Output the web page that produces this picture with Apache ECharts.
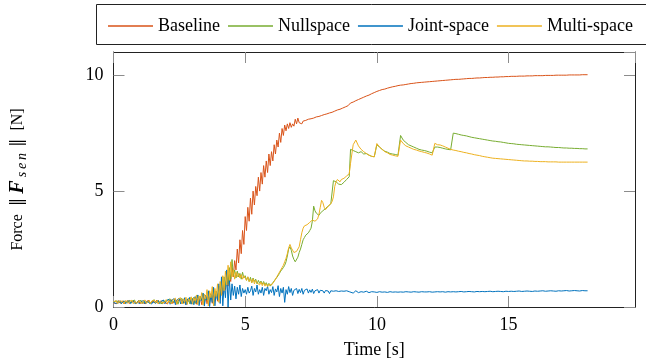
<!DOCTYPE html>
<html>
<head>
<meta charset="utf-8">
<script src="https://cdn.jsdelivr.net/npm/echarts@6/dist/echarts.min.js"></script>
<style>
  html, body { margin: 0; padding: 0; background: #fff; }
  #chart { width: 646px; height: 364px; }
</style>
</head>
<body>
<div id="chart"></div>
<script>
// samples: every 0.05 s from 0 to 8.95 s (one row per second), then every 0.1 s from 9 to 18 s
const fineStep = 0.05;
const fineCount = 180;
const coarseStart = 9;
const coarseStep = 0.1;

const baseline = [
  0.18,0.25,0.14,0.22,0.28,0.16,0.2,0.26,0.13,0.23,0.19,0.27,0.15,0.21,0.25,0.17,0.24,0.14,0.22,0.28,
  0.16,0.23,0.19,0.27,0.14,0.24,0.2,0.29,0.15,0.22,0.26,0.17,0.23,0.3,0.14,0.21,0.27,0.16,0.24,0.2,
  0.28,0.13,0.25,0.19,0.31,0.15,0.24,0.33,0.12,0.27,0.2,0.34,0.14,0.26,0.32,0.11,0.29,0.22,0.36,0.15,
  0.3,0.18,0.4,0.12,0.35,0.22,0.45,0.1,0.38,0.26,0.5,0.14,0.42,0.3,0.58,0.16,0.5,0.35,0.68,0.25,
  0.6,0.4,0.85,0.55,1.0,0.75,1.25,0.9,1.4,1.1,1.7,1.3,2.0,1.6,2.5,1.9,2.9,2.3,3.3,2.7,
  3.9,3.3,4.3,3.7,4.7,4.0,5.0,4.4,5.2,4.8,5.6,5.0,5.8,5.3,6.1,5.6,6.3,5.8,6.6,6.1,
  6.7,6.3,7.0,6.6,7.2,6.9,7.5,7.1,7.7,7.4,7.85,7.6,7.9,7.7,7.95,7.75,7.9,7.8,8.1,7.9,
  8.15,7.95,7.98,7.9,8.02,7.95,8.05,8.0,8.1,8.03,8.12,8.08,8.15,8.1,8.2,8.16,8.22,8.18,8.26,8.22,
  8.3,8.27,8.33,8.3,8.37,8.34,8.4,8.38,8.45,8.42,8.5,8.47,8.53,8.5,8.58,8.56,8.63,8.6,8.68,8.66,
  8.8,8.84,8.9,8.95,9.0,9.05,9.1,9.14,9.2,9.25,
  9.3,9.34,9.38,9.4,9.44,9.47,9.5,9.52,9.55,9.57,
  9.58,9.6,9.62,9.64,9.65,9.67,9.68,9.69,9.7,9.71,
  9.72,9.73,9.74,9.75,9.76,9.77,9.78,9.79,9.8,9.81,
  9.82,9.82,9.83,9.84,9.85,9.86,9.86,9.87,9.88,9.88,
  9.89,9.9,9.9,9.91,9.91,9.92,9.92,9.93,9.93,9.94,
  9.94,9.95,9.95,9.95,9.96,9.96,9.96,9.97,9.97,9.97,
  9.98,9.98,9.98,9.98,9.99,9.99,9.99,9.99,10.0,10.0,
  10.0,10.0,10.0,10.01,10.01,10.01,10.01,10.01,10.02,10.02,
  10.02
];

const nullspace = [
  0.21,0.15,0.26,0.18,0.24,0.29,0.16,0.22,0.27,0.14,0.23,0.19,0.28,0.16,0.25,0.2,0.3,0.15,0.22,0.26,
  0.19,0.28,0.15,0.24,0.3,0.17,0.22,0.27,0.13,0.25,0.2,0.31,0.16,0.24,0.29,0.18,0.26,0.14,0.3,0.21,
  0.16,0.3,0.22,0.35,0.14,0.27,0.33,0.18,0.29,0.12,0.31,0.24,0.37,0.15,0.28,0.34,0.19,0.39,0.13,0.3,
  0.22,0.42,0.15,0.36,0.5,0.2,0.45,0.28,0.58,0.14,0.48,0.3,0.65,0.2,0.55,0.35,0.75,0.25,0.68,0.45,
  0.9,0.5,1.1,0.7,1.3,0.85,1.5,1.0,1.7,1.2,2.05,1.35,1.6,1.25,1.55,1.3,1.45,1.2,1.5,1.25,
  1.35,1.15,1.3,1.1,1.28,1.05,1.25,1.1,1.2,1.0,1.15,1.02,1.12,0.98,1.1,0.95,1.05,0.92,1.02,0.9,
  0.98,1.05,1.12,1.2,1.28,1.35,1.45,1.55,1.6,1.7,1.8,1.95,2.2,2.5,2.6,2.45,2.2,2.05,1.95,2.0,
  2.15,2.35,2.5,2.7,2.9,3.0,3.1,3.05,3.2,3.3,3.4,3.7,4.35,4.15,4.05,4.0,3.95,4.05,4.1,4.15,
  4.2,4.25,4.3,4.35,4.4,4.45,4.5,5.45,5.5,5.4,5.38,5.3,5.35,5.28,5.32,5.38,5.45,5.5,5.55,5.62,
  6.8,6.75,6.7,6.65,6.7,6.6,6.62,6.55,6.5,6.48,
  7.0,6.9,6.8,6.72,6.68,6.62,6.6,6.58,6.55,7.4,
  7.2,7.1,7.0,6.95,6.9,6.85,6.8,6.77,6.75,6.72,
  6.68,6.65,6.9,6.9,6.88,6.85,6.82,6.8,6.78,7.5,
  7.48,7.45,7.42,7.4,7.38,7.35,7.32,7.3,7.28,7.26,
  7.24,7.22,7.2,7.18,7.16,7.15,7.13,7.12,7.1,7.08,
  7.06,7.05,7.04,7.02,7.01,7.0,6.99,6.98,6.97,6.96,
  6.95,6.94,6.93,6.92,6.91,6.91,6.9,6.89,6.88,6.88,
  6.87,6.86,6.86,6.85,6.85,6.84,6.84,6.83,6.83,6.82,
  6.82
];

const jointSpace = [
  0.2,0.25,0.15,0.23,0.18,0.27,0.14,0.22,0.26,0.17,0.24,0.19,0.28,0.15,0.21,0.25,0.16,0.23,0.2,0.27,
  0.15,0.24,0.2,0.28,0.14,0.22,0.26,0.17,0.25,0.13,0.23,0.29,0.16,0.21,0.27,0.15,0.24,0.19,0.3,0.14,
  0.26,0.18,0.33,0.12,0.28,0.2,0.36,0.1,0.3,0.22,0.38,0.13,0.32,0.18,0.4,0.09,0.35,0.24,0.42,0.12,
  0.35,0.1,0.45,0.2,0.52,0.06,0.4,0.28,0.6,0.04,0.5,0.3,0.7,0.02,0.55,0.2,0.85,0.05,0.65,0.3,
  1.0,0.15,1.3,0.05,0.95,0.4,1.6,0.0,1.2,0.3,1.0,0.5,0.9,0.35,0.85,0.55,0.95,0.45,0.8,0.6,
  0.75,0.55,0.85,0.6,0.7,0.9,0.5,0.8,0.65,0.95,0.55,0.75,0.6,0.85,0.5,0.8,0.7,0.9,0.55,0.75,
  0.62,0.88,0.5,0.78,0.65,0.92,0.45,0.8,0.6,0.85,0.2,0.75,0.55,0.88,0.62,0.8,0.5,0.72,0.65,0.8,
  0.58,0.76,0.62,0.8,0.55,0.72,0.66,0.78,0.6,0.74,0.63,0.77,0.58,0.7,0.65,0.75,0.6,0.72,0.64,0.7,
  0.6,0.71,0.63,0.69,0.58,0.7,0.64,0.68,0.61,0.7,0.65,0.67,0.6,0.69,0.63,0.68,0.62,0.7,0.64,0.66,
  0.68,0.6,0.7,0.62,0.66,0.64,0.68,0.62,0.66,0.65,
  0.63,0.66,0.64,0.65,0.63,0.66,0.64,0.65,0.64,0.65,
  0.64,0.66,0.65,0.64,0.66,0.65,0.64,0.66,0.65,0.65,
  0.66,0.64,0.65,0.66,0.65,0.66,0.64,0.66,0.65,0.66,
  0.65,0.66,0.67,0.65,0.66,0.67,0.66,0.65,0.67,0.66,
  0.67,0.66,0.67,0.68,0.66,0.67,0.68,0.67,0.66,0.68,
  0.67,0.68,0.67,0.68,0.69,0.67,0.68,0.69,0.68,0.67,
  0.69,0.68,0.69,0.7,0.68,0.69,0.7,0.69,0.68,0.7,
  0.69,0.7,0.71,0.69,0.7,0.71,0.7,0.69,0.71,0.7,
  0.7
];

const multiSpace = [
  0.23,0.17,0.27,0.14,0.21,0.26,0.18,0.24,0.15,0.28,0.2,0.16,0.25,0.19,0.29,0.14,0.23,0.27,0.17,0.22,
  0.26,0.15,0.24,0.2,0.3,0.16,0.23,0.28,0.14,0.25,0.21,0.3,0.17,0.27,0.13,0.24,0.31,0.18,0.26,0.2,
  0.32,0.15,0.28,0.36,0.13,0.3,0.22,0.38,0.12,0.33,0.25,0.4,0.14,0.35,0.2,0.42,0.11,0.36,0.27,0.44,
  0.12,0.4,0.25,0.52,0.1,0.48,0.3,0.62,0.08,0.55,0.35,0.75,0.05,0.7,0.4,0.88,0.05,0.8,0.45,1.0,
  0.2,1.1,0.5,1.35,0.7,1.55,0.95,1.8,1.15,1.95,1.3,1.6,1.2,1.5,1.3,1.45,1.25,1.4,1.2,1.35,
  1.25,1.15,1.3,1.1,1.2,1.05,1.22,1.0,1.15,1.05,1.1,0.95,1.08,0.92,1.05,0.9,1.0,0.88,0.98,0.9,
  0.95,1.0,1.1,1.18,1.3,1.4,1.5,1.6,1.7,1.8,1.95,2.1,2.3,2.55,2.7,2.55,2.45,2.35,2.3,2.4,
  2.45,2.6,2.9,3.2,3.4,3.5,3.45,3.55,3.6,3.65,3.7,3.75,3.8,3.7,3.75,3.8,4.0,4.3,4.6,4.5,
  4.3,4.2,4.25,4.35,4.4,4.45,4.55,4.75,5.2,5.4,5.5,5.45,5.4,5.5,5.45,5.55,5.6,5.65,5.7,5.75,
  6.2,7.0,7.2,6.95,6.8,6.7,6.62,6.55,6.5,6.48,
  7.05,6.9,6.8,6.7,6.65,6.58,6.55,6.52,6.5,7.2,
  7.05,6.95,6.9,6.85,6.8,6.77,6.73,6.7,6.67,6.64,
  6.6,6.55,7.06,7.0,6.99,6.95,6.9,6.85,6.8,6.77,
  6.75,6.72,6.7,6.67,6.65,6.62,6.6,6.57,6.55,6.53,
  6.5,6.48,6.46,6.44,6.42,6.41,6.4,6.39,6.38,6.37,
  6.36,6.35,6.34,6.33,6.32,6.31,6.3,6.3,6.29,6.29,
  6.28,6.28,6.27,6.27,6.27,6.26,6.26,6.26,6.26,6.25,
  6.25,6.25,6.25,6.25,6.25,6.25,6.25,6.25,6.25,6.25,
  6.25
];

const seriesNames = ['Baseline', 'Nullspace', 'Joint-space', 'Multi-space'];
const seriesColors = ['#D95319', '#77AC30', '#0072BD', '#EDB120'];
const xTicks = [0, 5, 10, 15];
const yTicks = [0, 5, 10];

const font = 'Liberation Serif, Times New Roman, serif';

function sampleTime(i) {
  if (i < fineCount) return +(i * fineStep).toFixed(2);
  return +(coarseStart + (i - fineCount) * coarseStep).toFixed(2);
}

function toPairs(values) {
  return values.map((v, i) => [sampleTime(i), v]);
}

const allValues = [baseline, nullspace, jointSpace, multiSpace];

let chart = echarts.init(document.getElementById('chart'));

const tickStyle = { show: true, inside: true, length: 11, lineStyle: { color: '#8c8c8c', width: 1 } };
const lineAxis = { show: true, onZero: false, lineStyle: { color: '#222', width: 1 } };

let option = {
  animation: false,
  textStyle: { fontFamily: font },
  graphic: [{
    type: 'rect',
    shape: { x: 96.5, y: 4.5, width: 600, height: 40 },
    style: { fill: 'none', stroke: '#222', lineWidth: 1 },
    silent: true
  }],
  legend: {
    left: 103,
    top: 12,
    icon: 'rect',
    itemWidth: 45,
    itemHeight: 1.3,
    itemGap: 8,
    textStyle: { fontFamily: font, fontSize: 18, color: '#000' },
    data: seriesNames
  },
  grid: { left: 112, right: 11, top: 52, bottom: 56, containLabel: false },
  xAxis: [{
    type: 'value',
    min: 0, max: 19.8, interval: 5,
    name: 'Time [s]',
    nameLocation: 'middle',
    nameGap: 34,
    nameTextStyle: { fontFamily: font, fontSize: 18, color: '#000' },
    axisLine: lineAxis,
    axisTick: tickStyle,
    splitLine: { show: false },
    axisLabel: {
      fontFamily: font, fontSize: 18, color: '#000', margin: 9,
      showMaxLabel: false,
      formatter: v => xTicks.includes(v) ? String(v) : ''
    }
  }, {
    type: 'value', position: 'top',
    min: 0, max: 19.8, interval: 5,
    axisLine: lineAxis, axisTick: tickStyle,
    axisLabel: { show: false }, splitLine: { show: false }
  }],
  yAxis: [{
    type: 'value',
    min: 0, max: 11, interval: 5,
    name: 'Force {d|‖}{b|F}{s|s\u2009e\u2009n}{d|‖} [N]',
    nameLocation: 'middle',
    nameRotate: 90,
    nameGap: 84,
    nameTextStyle: {
      fontFamily: font, fontSize: 16, color: '#000',
      rich: {
        d: { fontFamily: 'DejaVu Serif', fontSize: 17, color: '#000', padding: [0, 4, 0, 4] },
        b: { fontFamily: font, fontSize: 20, fontWeight: 'bold', fontStyle: 'italic', color: '#000', padding: [0, 2, 0, 0] },
        s: { fontFamily: font, fontSize: 14, fontStyle: 'italic', color: '#000', padding: [9, 2, 0, 1] }
      }
    },
    axisLine: lineAxis,
    axisTick: tickStyle,
    splitLine: { show: false },
    axisLabel: {
      fontFamily: font, fontSize: 18, color: '#000', margin: 10,
      showMaxLabel: false,
      formatter: v => yTicks.includes(v) ? String(v) : ''
    }
  }, {
    type: 'value', position: 'right',
    min: 0, max: 11, interval: 5,
    axisLine: lineAxis, axisTick: tickStyle,
    axisLabel: { show: false }, splitLine: { show: false }
  }],
  series: seriesNames.map((name, k) => ({
    name: name,
    type: 'line',
    symbol: 'none',
    lineStyle: { width: 1, color: seriesColors[k] },
    itemStyle: { color: seriesColors[k] },
    data: toPairs(allValues[k])
  }))
};

chart.setOption(option);
</script>
</body>
</html>
